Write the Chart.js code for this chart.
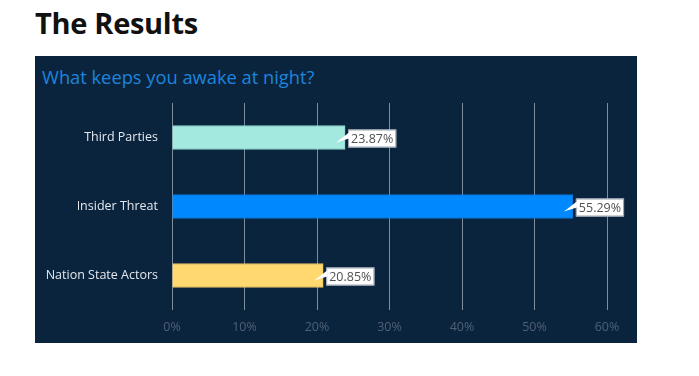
<!DOCTYPE html>
<html>
<head>
<meta charset="utf-8">
<script src="https://cdn.jsdelivr.net/npm/chart.js@4"></script>
<style>
  body { margin: 0; background: #fff; width: 699px; height: 376px; position: relative; overflow: hidden; }
  #head { position: absolute; left: 35px; top: 3px; font: bold 29px "Open Sans", sans-serif; color: #111; letter-spacing: -0.3px; }
  #panel { position: absolute; left: 35px; top: 56px; width: 602px; height: 287px; background: #0b243e; }
  #sub { position: absolute; left: 7px; top: 8px; font: 18.3px "Open Sans", sans-serif; color: #1d84dc; }
  #chart { position: absolute; left: 0; top: 0; }
</style>
</head>
<body>
<div id="head">The Results</div>
<div id="panel">
  <div id="sub">What keeps you awake at night?</div>
  <canvas id="chart" width="602" height="287"></canvas>
</div>
<script>
const categories = ['Third Parties', 'Insider Threat', 'Nation State Actors']
const values = [23.87, 55.29, 20.85]
const barColors = ['#a3e9e0', '#0088ff', '#ffd970']
const tickValues = [0, 10, 20, 30, 40, 50, 60]

// white callout boxes next to each bar end
const calloutPlugin = {
  id: 'callouts',
  afterDatasetsDraw(chart) {
    const ctx = chart.ctx
    const meta = chart.getDatasetMeta(0)
    ctx.save()
    ctx.font = '12.5px "Open Sans", sans-serif'
    meta.data.forEach((bar, i) => {
      const text = values[i].toFixed(2) + '%'
      const w = ctx.measureText(text).width + 6
      const h = 18
      const bx = bar.x + 3
      const by = bar.y - h / 2 + 1
      ctx.fillStyle = '#ffffff'
      ctx.strokeStyle = '#9aa3ad'
      ctx.lineWidth = 1
      ctx.fillRect(bx, by, w, h)
      ctx.strokeRect(bx + 0.5, by + 0.5, w - 1, h - 1)
      // little tail pointing into the bar
      ctx.beginPath()
      ctx.moveTo(bx + 1, by + 3)
      ctx.lineTo(bar.x - 9, bar.y + 5)
      ctx.lineTo(bx + 1, by + 9)
      ctx.closePath()
      ctx.fill()
      ctx.fillStyle = '#505050'
      ctx.textBaseline = 'middle'
      ctx.fillText(text, bx + 3, by + h / 2 + 0.5)
    })
    ctx.restore()
  }
}

let chartEle = document.getElementById('chart').getContext('2d')

let chart = new Chart(chartEle, {
  type: 'bar',
  data: {
    labels: categories,
    datasets: [
      {
        data: values,
        backgroundColor: barColors,
        borderColor: ['#8fd3ca', '#0a78dc', '#e6c25e'],
        borderWidth: 1,
        barThickness: 24,
      },
    ],
  },
  options: {
    indexAxis: 'y',
    responsive: false,
    animation: false,
    layout: { padding: { top: 47, right: 30, left: 0, bottom: 0 } },
    scales: {
      x: {
        min: 0,
        max: 60,
        afterBuildTicks: (axis) => { axis.ticks = tickValues.map(v => ({ value: v })) },
        afterFit: (axis) => { axis.height = 33 },
        grid: { color: '#7f8c99', drawTicks: false, lineWidth: 1 },
        border: { display: false },
        ticks: {
          color: '#4e6075',
          padding: 10,
          font: { family: 'Open Sans', size: 12.5 },
          callback: (v) => v + '%',
        },
      },
      y: {
        afterFit: (axis) => { axis.width = 137 },
        grid: { display: false, drawTicks: false },
        border: { display: false },
        ticks: {
          color: '#e3e8ee',
          padding: 14,
          font: { family: 'Open Sans', size: 12.5 },
        },
      },
    },
    plugins: {
      legend: { display: false },
      tooltip: { enabled: false },
    },
  },
  plugins: [calloutPlugin],
})
</script>
</body>
</html>
